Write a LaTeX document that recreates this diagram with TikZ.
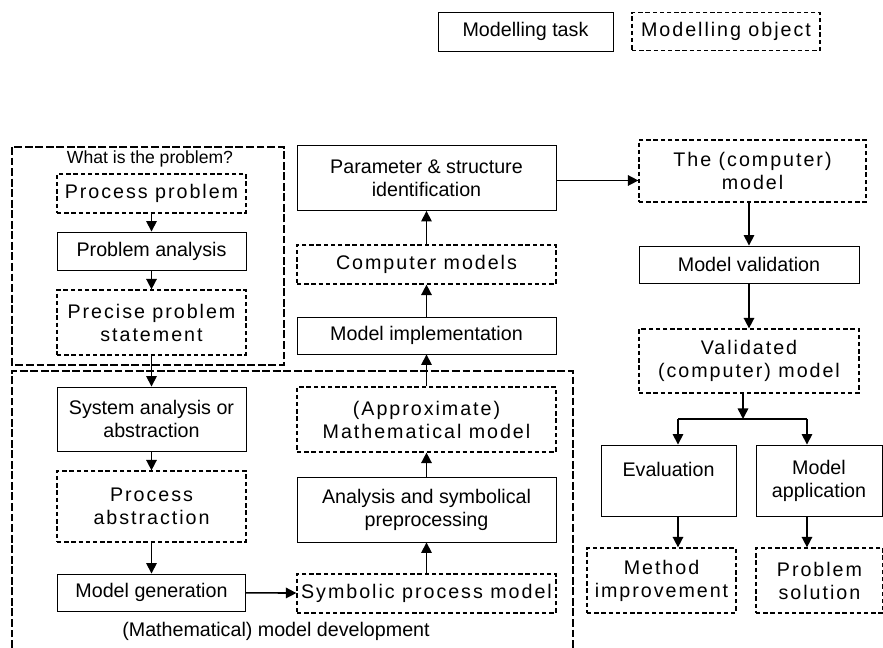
\documentclass[tikz,border=0pt]{standalone}
\usepackage{fontspec}
\setmainfont{Liberation Sans}
\newfontfamily\spacedfont[LetterSpace=10]{Liberation Sans}
\usetikzlibrary{arrows.meta,positioning}

\tikzset{
  taskbox/.style={draw, line width=0.5pt, align=center, inner sep=1pt,
    font=\fontsize{11.2}{13.1}\selectfont},
  objbox/.style={taskbox, line width=0.7pt, dash pattern=on 2.5pt off 1.6pt,
    font=\spacedfont\fontsize{11.2}{13.1}\selectfont},
  groupbox/.style={line width=0.9pt, dash pattern=on 4.5pt off 1.5pt},
  flow/.style={-{Triangle[length=6pt,width=6pt]}, line width=0.9pt}
}

\begin{document}
\begin{tikzpicture}
  \useasboundingbox (0,0) rectangle (17.66,12.96);

  % Legend
  \node[taskbox, minimum width=3.5cm, minimum height=0.78cm] (legtask) at (10.51,12.33) {Modelling task};
  \node[objbox, minimum width=3.76cm, minimum height=0.76cm] (legobj) at (14.52,12.33) {Modelling object};

  % Group frames
  \draw[groupbox] (0.24,10.02) rectangle (5.68,5.66);
  \node[font=\fontsize{10}{12}\selectfont] (problemlbl) at (3.0,9.78) {What is the problem?};
  \draw[groupbox] (0.24,0) -- (0.24,5.54) -- (11.46,5.54) -- (11.46,0);
  \node[font=\fontsize{11.2}{13.1}\selectfont] (devlbl) at (5.52,0.34) {(Mathematical) model development};

  % Left column
  \node[objbox, minimum width=3.78cm, minimum height=0.78cm] (procprob) at (3.03,9.09) {Process problem};
  \node[taskbox, minimum width=3.78cm, minimum height=0.76cm] (probana) at (3.03,7.94) {Problem analysis};
  \node[objbox, minimum width=3.78cm, minimum height=1.3cm] (precise) at (3.03,6.51) {Precise problem\\statement};
  \node[taskbox, minimum width=3.78cm, minimum height=1.28cm] (sysana) at (3.03,4.58) {System analysis or\\abstraction};
  \node[objbox, minimum width=3.78cm, minimum height=1.42cm] (procabs) at (3.03,2.83) {Process\\abstraction};
  \node[taskbox, minimum width=3.76cm, minimum height=0.74cm] (modgen) at (3.03,1.11) {Model generation};

  % Middle column
  \node[taskbox, minimum width=5.18cm, minimum height=1.3cm] (param) at (8.53,9.4) {Parameter \& structure\\identification};
  \node[objbox, minimum width=5.18cm, minimum height=0.78cm] (compmods) at (8.53,7.67) {Computer models};
  \node[taskbox, minimum width=5.18cm, minimum height=0.74cm] (modimpl) at (8.53,6.25) {Model implementation};
  \node[objbox, minimum width=5.18cm, minimum height=1.3cm] (approx) at (8.53,4.57) {(Approximate)\\Mathematical model};
  \node[taskbox, minimum width=5.18cm, minimum height=1.3cm] (symana) at (8.53,2.77) {Analysis and symbolical\\preprocessing};
  \node[objbox, minimum width=5.18cm, minimum height=0.78cm] (sympm) at (8.53,1.09) {Symbolic process model};

  % Right column
  \node[objbox, minimum width=4.54cm, minimum height=1.24cm] (cmodel) at (15.05,9.54) {The (computer)\\model};
  \node[taskbox, minimum width=4.4cm, minimum height=0.74cm] (modval) at (14.98,7.67) {Model validation};
  \node[objbox, minimum width=4.4cm, minimum height=1.28cm] (validated) at (14.98,5.74) {Validated\\(computer) model};
  \node[taskbox, minimum width=2.7cm, minimum height=1.42cm] (evalbox) at (13.37,3.35) {Evaluation\\\mbox{}};
  \node[taskbox, minimum width=2.52cm, minimum height=1.42cm] (modapp) at (16.38,3.35) {Model\\application};
  \node[objbox, minimum width=2.98cm, minimum height=1.3cm] (methimp) at (13.23,1.35) {Method\\improvement};
  \node[objbox, minimum width=2.54cm, minimum height=1.3cm] (probsol) at (16.39,1.35) {Problem\\solution};

  % Connectors
  \draw[flow] (procprob) -- (probana);
  \draw[flow] (probana) -- (precise);
  \draw[flow] (precise) -- (sysana);
  \draw[flow] (sysana) -- (procabs);
  \draw[flow] (procabs) -- (modgen);
  \draw[flow] (modgen) -- (sympm);
  \draw[flow] (sympm) -- (symana);
  \draw[flow] (symana) -- (approx);
  \draw[flow] (approx) -- (modimpl);
  \draw[flow] (modimpl) -- (compmods);
  \draw[flow] (compmods) -- (param);
  \draw[flow] ([yshift=-0.05cm]param.east) -- ([yshift=-0.05cm]param.east -| cmodel.west);
  \draw[flow] (cmodel.south -| modval) -- (modval);
  \draw[flow] (modval) -- (validated);

  % Branch below the validated model
  \coordinate (split) at (14.86,4.58);
  \coordinate (jl) at (13.56,4.58);
  \coordinate (jr) at (16.14,4.58);
  \draw[flow] (validated.south -| split) -- (split);
  \draw[line width=0.9pt] (jl) -- (jr);
  \draw[flow] (jl) -- (jl |- evalbox.north);
  \draw[flow] (jr) -- (jr |- modapp.north);
  \draw[flow] (jl |- evalbox.south) -- (jl |- methimp.north);
  \draw[flow] (jr |- modapp.south) -- (jr |- probsol.north);
\end{tikzpicture}
\end{document}
